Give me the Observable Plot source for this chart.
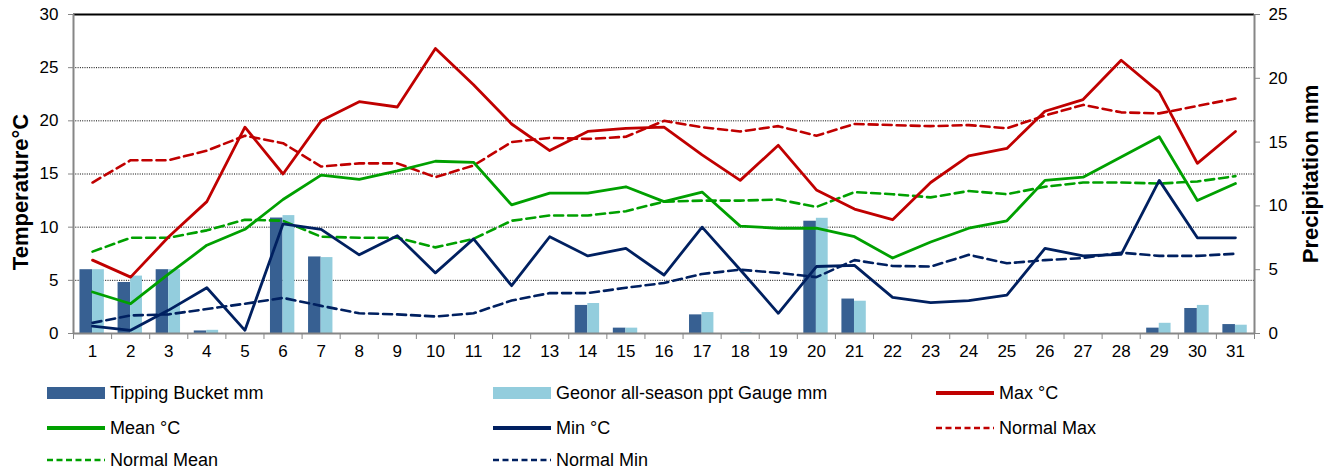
<!DOCTYPE html>
<html><head><meta charset="utf-8">
<script src="https://cdn.jsdelivr.net/npm/d3@7"></script>
<script src="https://cdn.jsdelivr.net/npm/@observablehq/plot@0.6"></script>
<style>
body{margin:0;background:#fff;font-family:"Liberation Sans",Arial,sans-serif;}
#wrap{position:relative;width:1332px;height:474px;overflow:hidden;}
.leg{position:absolute;display:flex;align-items:center;font-size:18px;color:#000;white-space:nowrap;height:20px;}
.leg .sw{width:58px;height:20px;display:flex;align-items:center;margin-right:5px;}
</style></head><body><div id="wrap"><div id="chart"></div></div>
<script>
const days = [1,2,3,4,5,6,7,8,9,10,11,12,13,14,15,16,17,18,19,20,21,22,23,24,25,26,27,28,29,30,31];
const tmax = [6.9,5.3,9.1,12.4,19.4,15.0,20.0,21.8,21.3,26.8,23.4,19.7,17.2,19.0,19.3,19.4,16.8,14.4,17.7,13.5,11.7,10.7,14.2,16.7,17.4,20.9,22.0,25.7,22.7,16.0,19.0];
const tmean = [3.9,2.8,5.6,8.3,9.8,12.6,14.9,14.5,15.3,16.2,16.1,12.1,13.2,13.2,13.8,12.4,13.3,10.1,9.9,9.9,9.1,7.1,8.6,9.9,10.6,14.4,14.7,16.6,18.5,12.5,14.1];
const tmin = [0.7,0.3,2.2,4.3,0.3,10.3,9.8,7.4,9.2,5.7,8.9,4.5,9.1,7.3,8.0,5.5,10.0,6.0,1.9,6.3,6.4,3.4,2.9,3.1,3.6,8.0,7.3,7.45,14.4,9.0,9.0];
const normMax = [14.2,16.3,16.3,17.2,18.6,17.9,15.7,16.0,16.0,14.7,15.8,18.0,18.4,18.3,18.5,20.0,19.4,19.0,19.5,18.6,19.7,19.6,19.5,19.6,19.3,20.5,21.5,20.8,20.7,21.4,22.1];
const normMean = [7.7,9.0,9.0,9.7,10.7,10.6,9.1,9.0,9.0,8.1,8.9,10.6,11.1,11.1,11.5,12.4,12.5,12.5,12.6,11.9,13.3,13.1,12.8,13.4,13.1,13.8,14.2,14.2,14.1,14.3,14.8];
const normMin = [1.0,1.7,1.8,2.3,2.8,3.35,2.6,1.9,1.8,1.6,1.9,3.1,3.8,3.8,4.3,4.75,5.6,6.0,5.7,5.3,6.9,6.35,6.3,7.4,6.6,6.9,7.1,7.6,7.3,7.3,7.5];
const tipping = [5.0,4.0,5.0,0.2,0,9.05,6.0,0,0,0,0,0,0,2.2,0.42,0,1.46,0,0,8.8,2.7,0,0,0,0,0,0,0,0.42,1.96,0.7];
const geonor = [5.0,4.5,5.0,0.25,0,9.24,5.95,0,0,0,0,0,0,2.35,0.42,0,1.64,0.05,0,9.03,2.53,0,0,0,0,0,0,0,0.8,2.2,0.65];
const tempTicks = [0,5,10,15,20,25,30];
const precipTicks = [0,5,10,15,20,25];

const TEMP_MAX = 30, PRECIP_MAX = 25;
const k = TEMP_MAX / PRECIP_MAX;
const rows = days.map((d,i)=>({day:d, tmax:tmax[i], tmean:tmean[i], tmin:tmin[i], nmax:normMax[i], nmean:normMean[i], nmin:normMin[i], tb:tipping[i], gn:geonor[i]}));
const bounds = d3.range(days.length + 1).map(i => days[0] - 0.5 + i);

const C = {tb:"#376092", gn:"#93CDDD", max:"#C00000", mean:"#00A000", min:"#002060"};
const dash = "9,5";

const chart = Plot.plot({
  width: 1332, height: 365,
  marginLeft: 73, marginRight: 78, marginTop: 14, marginBottom: 32,
  style: {fontFamily: '"Liberation Sans", Arial, sans-serif', fontSize: "17px", color: "#000", background: "#fff"},
  x: {type: "linear", domain: [0.5, 31.5]},
  y: {domain: [0, TEMP_MAX]},
  marks: [
    Plot.ruleY(tempTicks.filter(t => t > 0 && t < TEMP_MAX), {y: d => d, stroke: "#000", strokeDasharray: "1,1.3", strokeWidth: 1}),
    Plot.rectY(rows, {x1: d => d.day - 0.33, x2: d => d.day, y1: 0, y2: d => d.tb * k, fill: C.tb, inset: 0}),
    Plot.rectY(rows, {x1: d => d.day, x2: d => d.day + 0.31, y1: 0, y2: d => d.gn * k, fill: C.gn, inset: 0}),
    Plot.line(rows, {x: "day", y: "nmax", stroke: C.max, strokeWidth: 2.6, strokeDasharray: dash}),
    Plot.line(rows, {x: "day", y: "nmean", stroke: C.mean, strokeWidth: 2.6, strokeDasharray: dash}),
    Plot.line(rows, {x: "day", y: "nmin", stroke: C.min, strokeWidth: 2.6, strokeDasharray: dash}),
    Plot.line(rows, {x: "day", y: "tmax", stroke: C.max, strokeWidth: 2.8}),
    Plot.line(rows, {x: "day", y: "tmean", stroke: C.mean, strokeWidth: 2.8}),
    Plot.line(rows, {x: "day", y: "tmin", stroke: C.min, strokeWidth: 2.8}),
    Plot.ruleY([TEMP_MAX], {stroke: "#000", strokeWidth: 2}),
    Plot.ruleX([0.5], {stroke: "#868686", strokeWidth: 2}),
    Plot.ruleX([31.5], {stroke: "#868686", strokeWidth: 2}),
    Plot.ruleY([0], {stroke: "#868686", strokeWidth: 2}),
    Plot.axisY({ticks: tempTicks, tickSize: 5, tickPadding: 10, stroke: "#868686", fill: "#000", fontSize: 17, label: null}),
    Plot.axisY({anchor: "right", ticks: precipTicks.map(v => v * k), tickFormat: d => String(Math.round(d / k)), tickSize: 5, tickPadding: 9, stroke: "#868686", fill: "#000", fontSize: 17, label: null}),
    Plot.axisX({ticks: days, tickSize: 0, tickPadding: 11, fill: "#000", fontSize: 17, label: null, tickFormat: d => String(d)}),
    Plot.axisX({ticks: bounds, tickSize: 6, tickFormat: () => "", stroke: "#868686", label: null}),
    Plot.text(["Temperature°C"], {frameAnchor: "left", textAnchor: "middle", dx: -53, dy: 18, rotate: -90, fontWeight: "bold", fontSize: 22, fill: "#000"}),
    Plot.text(["Precipitation mm"], {frameAnchor: "right", textAnchor: "middle", dx: 56, rotate: -90, fontWeight: "bold", fontSize: 22, fill: "#000"})
  ]
});
document.getElementById("chart").appendChild(chart);

const legendItems = [
  {label: "Tipping Bucket mm", type: "bar", color: C.tb, col: 0, row: 0},
  {label: "Geonor all-season ppt Gauge mm", type: "bar", color: C.gn, col: 1, row: 0},
  {label: "Max °C", type: "line", color: C.max, col: 2, row: 0},
  {label: "Mean °C", type: "line", color: C.mean, col: 0, row: 1},
  {label: "Min °C", type: "line", color: C.min, col: 1, row: 1},
  {label: "Normal Max", type: "dash", color: C.max, col: 2, row: 1},
  {label: "Normal Mean", type: "dash", color: C.mean, col: 0, row: 2},
  {label: "Normal Min", type: "dash", color: C.min, col: 1, row: 2}
];
const colX = [47, 493, 936];
const rowY = [393, 428, 460];
const wrap = document.getElementById("wrap");
for (const it of legendItems) {
  const div = document.createElement("div");
  div.className = "leg";
  div.style.left = colX[it.col] + "px";
  div.style.top = (rowY[it.row] - 10) + "px";
  let sw;
  if (it.type === "bar") {
    sw = `<div class="sw"><div style="width:58px;height:12px;background:${it.color}"></div></div>`;
  } else if (it.type === "line") {
    sw = `<div class="sw"><svg width="58" height="10"><line x1="0" x2="58" y1="5" y2="5" stroke="${it.color}" stroke-width="4"/></svg></div>`;
  } else {
    sw = `<div class="sw"><svg width="58" height="10"><line x1="0" x2="58" y1="5" y2="5" stroke="${it.color}" stroke-width="2.6" stroke-dasharray="6,3.5"/></svg></div>`;
  }
  div.innerHTML = sw + `<span>${it.label}</span>`;
  wrap.appendChild(div);
}
</script></body></html>
